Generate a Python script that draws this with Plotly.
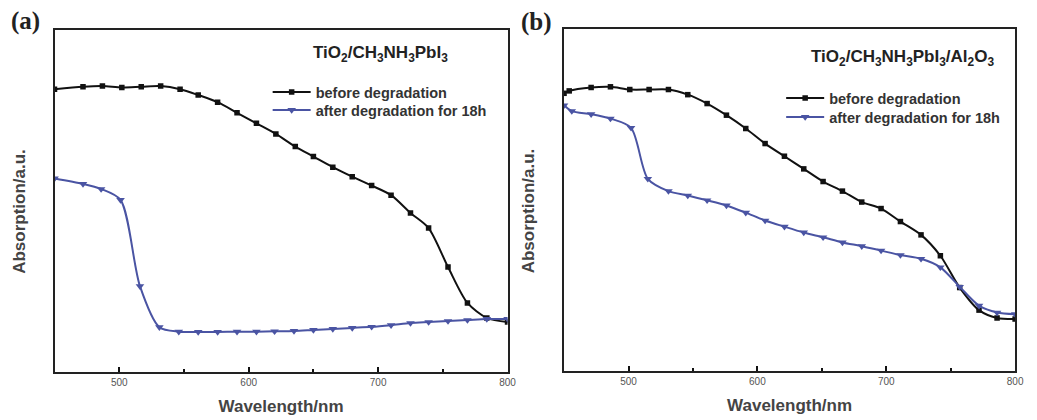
import plotly.graph_objects as go

# Panel (a): TiO2/CH3NH3PbI3
a_before_x = [450, 472, 487, 502, 517, 532, 547, 561, 576, 591, 606, 621, 636, 650, 665, 680, 695, 710, 725, 739, 754, 769, 784, 800]
a_before_y = [0.827, 0.834, 0.836, 0.832, 0.834, 0.836, 0.827, 0.810, 0.789, 0.758, 0.727, 0.696, 0.659, 0.630, 0.599, 0.571, 0.545, 0.517, 0.465, 0.421, 0.307, 0.202, 0.158, 0.146]
a_after_x = [450, 472, 486, 501, 516, 531, 546, 561, 576, 591, 606, 620, 635, 650, 665, 680, 695, 710, 725, 739, 754, 769, 784, 800]
a_after_y = [0.566, 0.550, 0.535, 0.503, 0.251, 0.131, 0.118, 0.117, 0.117, 0.118, 0.118, 0.119, 0.120, 0.123, 0.126, 0.129, 0.132, 0.137, 0.143, 0.146, 0.149, 0.152, 0.155, 0.155]

# Panel (b): TiO2/CH3NH3PbI3/Al2O3
b_before_x = [450, 454, 471, 486, 501, 516, 531, 546, 561, 576, 591, 606, 621, 636, 651, 666, 681, 696, 711, 727, 742, 757, 772, 786, 800]
b_before_y = [0.812, 0.819, 0.829, 0.831, 0.823, 0.823, 0.823, 0.808, 0.782, 0.748, 0.709, 0.665, 0.628, 0.591, 0.554, 0.526, 0.494, 0.475, 0.437, 0.398, 0.337, 0.244, 0.178, 0.155, 0.152]
b_after_x = [450, 456, 471, 486, 502, 515, 531, 546, 561, 576, 591, 606, 621, 636, 651, 666, 681, 696, 711, 727, 742, 757, 772, 786, 800]
b_after_y = [0.777, 0.760, 0.751, 0.738, 0.711, 0.562, 0.526, 0.513, 0.499, 0.484, 0.463, 0.440, 0.422, 0.405, 0.391, 0.376, 0.365, 0.352, 0.339, 0.328, 0.303, 0.246, 0.191, 0.171, 0.166]

x_ticks = [500, 600, 700, 800]
labels = ["before degradation", "after degradation for 18h"]
titles = ["TiO<sub>2</sub>/CH<sub>3</sub>NH<sub>3</sub>PbI<sub>3</sub>",
          "TiO<sub>2</sub>/CH<sub>3</sub>NH<sub>3</sub>PbI<sub>3</sub>/Al<sub>2</sub>O<sub>3</sub>"]

BLACK = "#111111"
BLUE = "#4a54a3"
FONT = "Liberation Sans"

fig = go.Figure()

panels = [
    (a_before_x, a_before_y, a_after_x, a_after_y, "x", "y", "legend", "legend2"),
    (b_before_x, b_before_y, b_after_x, b_after_y, "x2", "y2", "legend3", "legend4"),
]
for bx, by, ax, ay, xa, ya, lg1, lg2 in panels:
    fig.add_trace(go.Scatter(x=bx, y=by, mode="lines+markers", name=labels[0],
                             line=dict(color=BLACK, width=2, shape="spline", smoothing=0.8),
                             marker=dict(symbol="square", size=5.5, color=BLACK),
                             xaxis=xa, yaxis=ya, legend=lg1, cliponaxis=True))
    fig.add_trace(go.Scatter(x=ax, y=ay, mode="lines+markers", name=labels[1],
                             line=dict(color=BLUE, width=2, shape="spline", smoothing=0.8),
                             marker=dict(symbol="triangle-down", size=7.5, color=BLUE),
                             xaxis=xa, yaxis=ya, legend=lg2, cliponaxis=True))

H = 420
W = 1037


def px(x):
    return x / W


def py(y):
    return 1 - y / H


xcommon = dict(range=[450, 800], tickvals=x_ticks, ticks="inside", ticklen=5, tickwidth=2,
               tickcolor=BLACK, showline=True, linewidth=2, linecolor="#222222", mirror=True,
               showgrid=False, zeroline=False,
               tickfont=dict(family=FONT, size=10, color="#555555"),
               minor=dict(tickvals=[550, 650, 750], ticks="inside", ticklen=3, tickwidth=1.5, tickcolor=BLACK),
               title=dict(text="<b>Wavelength/nm</b>", font=dict(family=FONT, size=17, color="#444444"), standoff=13))
ycommon = dict(range=[0, 1], showticklabels=False, ticks="", showline=True, linewidth=2,
               linecolor="#222222", mirror=True, showgrid=False, zeroline=False)

legcommon = dict(font=dict(family=FONT, size=14.5, color="#333333", weight="bold"),
                 bgcolor="rgba(0,0,0,0)", borderwidth=0, itemwidth=38,
                 tracegroupgap=0, xanchor="left", yanchor="top")

ann_common = dict(xref="paper", yref="paper", showarrow=False, xanchor="center", yanchor="middle")

fig.update_layout(
    width=W, height=H,
    margin=dict(l=0, r=0, t=0, b=0),
    paper_bgcolor="white", plot_bgcolor="white",
    xaxis=dict(domain=[px(55), px(512)], anchor="y", **xcommon),
    yaxis=dict(domain=[py(372), py(30)], anchor="x", **ycommon),
    xaxis2=dict(domain=[px(569), px(1024)], anchor="y2", **xcommon),
    yaxis2=dict(domain=[py(371), py(29)], anchor="x2", **ycommon),
    legend=dict(x=px(270), y=py(76), **legcommon),
    legend2=dict(x=px(270), y=py(94), **legcommon),
    legend3=dict(x=px(788), y=py(82), **legcommon),
    legend4=dict(x=px(788), y=py(101), **legcommon),
    showlegend=True,
    annotations=[
        dict(text="<b>" + titles[0] + "</b>", x=px(384), y=py(54),
             font=dict(family=FONT, size=17, color="#222222"), **ann_common),
        dict(text="<b>" + titles[1] + "</b>", x=px(910), y=py(58),
             font=dict(family=FONT, size=17, color="#222222"), **ann_common),
        dict(text="<b>(a)</b>", x=px(26), y=py(21),
             font=dict(family="Liberation Serif", size=25, color="#222222"), **ann_common),
        dict(text="<b>(b)</b>", x=px(541), y=py(22),
             font=dict(family="Liberation Serif", size=25, color="#222222"), **ann_common),
        dict(text="<b>Absorption/a.u.</b>", x=px(19), y=py(211), textangle=-90,
             font=dict(family=FONT, size=17, color="#444444"), **ann_common),
        dict(text="<b>Absorption/a.u.</b>", x=px(533), y=py(211), textangle=-90,
             font=dict(family=FONT, size=17, color="#444444"), **ann_common),
    ],
)

fig.write_html("out.html", config={"displayModeBar": False},
               post_script="document.body.style.margin='0';")
